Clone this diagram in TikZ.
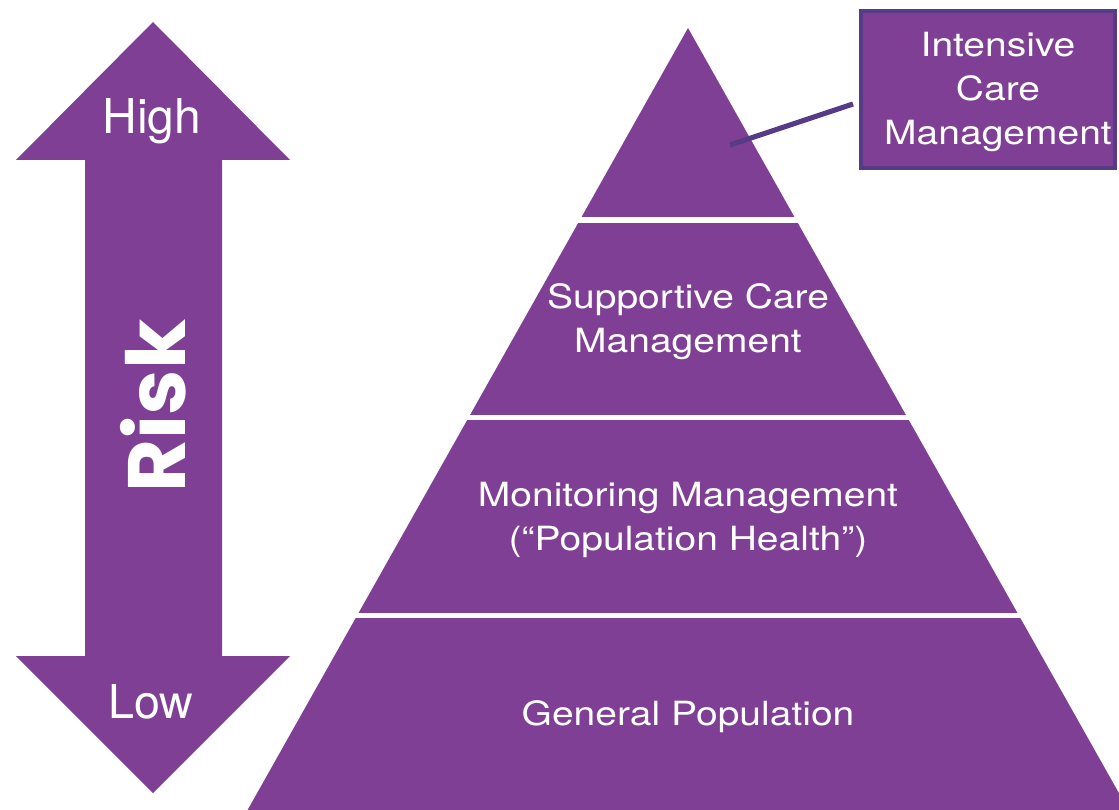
\documentclass[tikz,border=0pt]{standalone}
\usepackage{fontspec}
\setmainfont{TeX Gyre Heros}
\newfontfamily\wide[FakeStretch=1.17]{TeX Gyre Heros}
\newfontfamily\riskfont{Poppins}
\usetikzlibrary{calc}
\definecolor{pur}{HTML}{7E3F95}
\definecolor{dpur}{HTML}{583B86}
\tikzset{
  lbl/.style={text=white, align=center, font=\wide\fontsize{25}{33}\selectfont, inner sep=0pt},
  gap/.style={draw=white, line width=3.8pt},
}
\begin{document}
\begin{tikzpicture}[x=0.75pt,y=-0.75pt]
\useasboundingbox (0,0) rectangle (1119,809);
\clip (0,0) rectangle (1119,809);
% double arrow
\fill[pur] (153,22) -- (290,160) -- (222,160) -- (222,656) -- (290,656) -- (153,793)
  -- (16,656) -- (85,656) -- (85,160) -- (16,160) -- cycle;
\node[lbl, font=\fontsize{36}{40}\selectfont] (high) at (152,121) {High};
\node[lbl, font=\fontsize{35}{40}\selectfont] (low) at (151,702) {Low};
\node[lbl, rotate=90, font=\riskfont\bfseries\fontsize{61}{64}\selectfont] (risk) at (153,406) {Risk};
% pyramid
\coordinate (apex) at (688,28);
\fill[pur] (apex) -- ($(apex)+(-0.5632*800,800)$) -- ($(apex)+(0.5632*800,800)$) -- cycle;
\draw[gap] (500,220) -- (900,220);
\draw[gap] (420,417.5) -- (1000,417.5);
\draw[gap] (320,615.5) -- (1119,615.5);
\node[lbl] (supp) at (688,322) {Supportive Care\\Management};
\node[lbl] (mon) at (688,520) {Monitoring Management\\(“Population Health”)};
\node[lbl] (gen) at (688,717) {General Population};
% intensive box
\node[fill=pur, draw=dpur, line width=3pt, inner sep=0pt, minimum width=190.5pt, minimum height=117.75pt] (ic) at (988,89.5) {};
\node[lbl] (ict) at (998,92) {Intensive\\Care\\Management};
\coordinate (tip) at (730,145);
\coordinate (lend) at (853,104);
\draw[dpur, line width=3.8pt] (tip) -- (lend);
\end{tikzpicture}
\end{document}
